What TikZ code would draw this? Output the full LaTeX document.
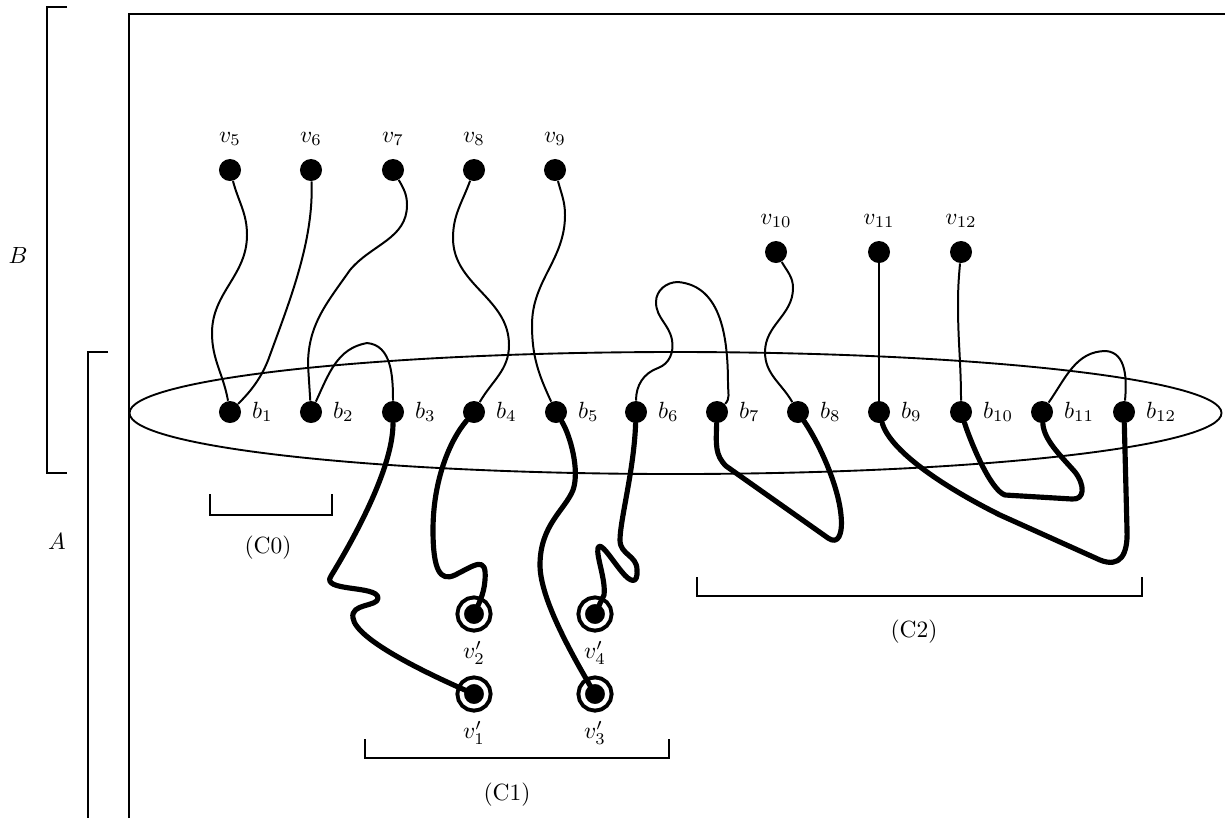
\documentclass[tikz,border=0pt]{standalone}
\usepackage{tikz}
\usetikzlibrary{positioning}
\tikzset{
    vert/.style={
           circle,
           fill=black,
           inner sep=0pt,
           minimum size=9.4pt},
    outvert/.style={
           circle,
           fill=black,
           draw=black,
           double=white,
           double distance=1.9pt,
           line width=1.7pt,
           inner sep=0pt,
           minimum size=10.5pt},
    % Define wire styles
    wire/.style={
           line width=0.85pt,
           line join=round},
    fatwire/.style={
           line width=2.2pt,
           line cap=round,
           line join=round},
    brack/.style={
           line width=0.7pt}
}

\begin{document}
\begin{tikzpicture}[x=0.015cm, y=0.015cm]
	\useasboundingbox (0,-818) rectangle (1225,0);

	\draw[line width=0.8pt] (129,-818) -- (129,-14) -- (1225,-14);
	\draw[line width=1.2pt] (67,-7) -- (47,-7) -- (47,-473) -- (67,-473);
	\draw[line width=1.2pt] (108,-352) -- (88,-352) -- (88,-818);
	\node (labB) at (18,-255) {$B$};
	\node (labA) at (57,-541) {$A$};

	\draw[line width=0.8pt] (675.5,-413) ellipse [x radius=546, y radius=61];

	\node[vert, label={[label distance=2pt]above:$v_5$}] (v5) at (230,-170) {};
	\node[vert, label={[label distance=2pt]above:$v_6$}] (v6) at (311,-170) {};
	\node[vert, label={[label distance=2pt]above:$v_7$}] (v7) at (393,-170) {};
	\node[vert, label={[label distance=2pt]above:$v_8$}] (v8) at (474,-170) {};
	\node[vert, label={[label distance=2pt]above:$v_9$}] (v9) at (555,-170) {};
	\node[vert, label={[label distance=2pt]above:$v_{10}$}] (v10) at (776,-252) {};
	\node[vert, label={[label distance=2pt]above:$v_{11}$}] (v11) at (879,-252) {};
	\node[vert, label={[label distance=2pt]above:$v_{12}$}] (v12) at (961,-252) {};

	\node[vert, label={[label distance=1pt]right:$b_1$}] (b1) at (230,-412) {};
	\node[vert, label={[label distance=1pt]right:$b_2$}] (b2) at (311,-412) {};
	\node[vert, label={[label distance=1pt]right:$b_3$}] (b3) at (393,-412) {};
	\node[vert, label={[label distance=1pt]right:$b_4$}] (b4) at (474,-412) {};
	\node[vert, label={[label distance=1pt]right:$b_5$}] (b5) at (556,-412) {};
	\node[vert, label={[label distance=1pt]right:$b_6$}] (b6) at (636,-412) {};
	\node[vert, label={[label distance=1pt]right:$b_7$}] (b7) at (717,-412) {};
	\node[vert, label={[label distance=1pt]right:$b_8$}] (b8) at (798,-412) {};
	\node[vert, label={[label distance=1pt]right:$b_9$}] (b9) at (879,-412) {};
	\node[vert, label={[label distance=1pt]right:$b_{10}$}] (b10) at (961,-412) {};
	\node[vert, label={[label distance=1pt]right:$b_{11}$}] (b11) at (1042,-412) {};
	\node[vert, label={[label distance=1pt]right:$b_{12}$}] (b12) at (1124,-412) {};

	\node[outvert, label={[label distance=2pt]below:$v'_1$}] (w1) at (474,-694) {};
	\node[outvert, label={[label distance=2pt]below:$v'_2$}] (w2) at (474,-614) {};
	\node[outvert, label={[label distance=2pt]below:$v'_3$}] (w3) at (595,-694) {};
	\node[outvert, label={[label distance=2pt]below:$v'_4$}] (w4) at (595,-614) {};

	% thin wires, top part
	\draw[wire] (v5) to[out=285,in=90] (247,-235) to[out=270,in=90] (212,-333) to[out=270,in=100] (b1);
	\draw[wire] (v6) .. controls (314,-240) and (290,-300) .. (270,-355) .. controls (262,-378) and (250,-392) .. (b1);
	\draw[wire] (v7) to[out=300,in=90] (407,-205) to[out=270,in=50] (350,-270) to[out=235,in=90] (308,-365) -- (b2);
	\draw[wire] (v8) to[out=250,in=90] (453,-238) to[out=270,in=90] (509,-345) to[out=270,in=60] (b4);
	\draw[wire] (v9) to[out=285,in=90] (565,-215) to[out=270,in=90] (532,-325) to[out=270,in=115] (b5);
	\draw[wire] (b6) to[out=90,in=200] (658,-368) to[out=20,in=280] (672,-340) to[out=100,in=270] (656,-302)
		to[out=90,in=180] (678,-282) to[out=-5,in=90] (728,-385) to[out=270,in=45] (b7);
	\draw[wire] (v10) to[out=300,in=90] (793,-288) to[out=270,in=90] (765,-352) to[out=270,in=120] (b8);
	\draw[wire] (v11) -- (b9);
	\draw[wire] (v12) to[out=265,in=90] (958,-305) to[out=270,in=90] (b10);
	\draw[wire] (b11) to[out=55,in=180] (1106,-351) to[out=-5,in=85] (b12);
	\draw[wire] (b2) to[out=65,in=190] (367,-343) to[out=-5,in=90] (b3);

	% thick wires, bottom part
	\draw[fatwire] (b3) .. controls (393,-470) and (350,-545) .. (331,-576) .. controls (320,-592) and (378,-585) .. (378,-598)
		.. controls (378,-607) and (350,-603) .. (353,-618) .. controls (356,-640) and (430,-675) .. (w1.center);
	\draw[fatwire] (b4) .. controls (450,-440) and (433,-480) .. (433,-530) .. controls (433,-570) and (440,-582) .. (455,-575)
		.. controls (475,-565) and (487,-555) .. (485,-580) .. controls (484,-595) and (478,-605) .. (w2.center);
	\draw[fatwire] (b5) .. controls (570,-435) and (580,-470) .. (573,-490) .. controls (565,-510) and (540,-525) .. (540,-565)
		.. controls (540,-600) and (575,-660) .. (w3.center);
	\draw[fatwire] (b6) .. controls (634,-470) and (620,-520) .. (620,-540) .. controls (620,-555) and (637,-555) .. (637,-570)
		.. controls (638,-585) and (630,-582) .. (622,-572) .. controls (612,-560) and (600,-540) .. (598,-548)
		.. controls (596,-556) and (606,-580) .. (604,-595) -- (w4.center);
	\draw[fatwire] (b7) .. controls (716,-445) and (715,-455) .. (726,-466) -- (828,-538)
		.. controls (838,-545) and (843,-535) .. (841,-515) .. controls (838,-485) and (820,-445) .. (b8);
	\draw[fatwire] (b9) .. controls (890,-450) and (940,-485) .. (1000,-515) -- (1100,-560)
		.. controls (1120,-568) and (1128,-555) .. (1127,-530) -- (b12);
	\draw[fatwire] (b10) .. controls (970,-440) and (990,-490) .. (1005,-495) -- (1072,-499)
		.. controls (1085,-500) and (1085,-485) .. (1075,-472) .. controls (1060,-455) and (1044,-440) .. (b11);

	% groups
	\draw[brack] (210,-494) -- (210,-515) -- (332,-515) -- (332,-494);
	\node (c0) at (268,-548) {(C0)};
	\draw[brack] (365,-739) -- (365,-758) -- (669,-758) -- (669,-739);
	\node (c1) at (507,-795) {(C1)};
	\draw[brack] (697,-577) -- (697,-596) -- (1142,-596) -- (1142,-577);
	\node (c2) at (914,-632) {(C2)};
\end{tikzpicture}
\end{document}
